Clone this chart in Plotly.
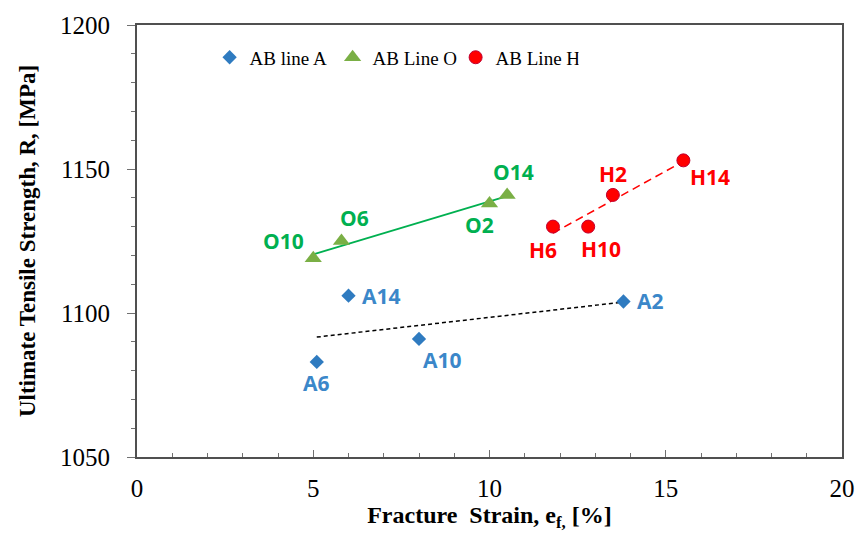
import numpy as np
import plotly.graph_objects as go

# ---- data ----
a_x = [5.1, 6.0, 8.0, 13.8]
a_y = [1083, 1106, 1091, 1104]
a_lab = ["A6", "A14", "A10", "A2"]

o_x = [5.0, 5.8, 10.0, 10.5]
o_y = [1119, 1125, 1138, 1141]
o_lab = ["O10", "O6", "O2", "O14"]

h_x = [11.8, 12.8, 13.5, 15.5]
h_y = [1130, 1130, 1141, 1153]
h_lab = ["H6", "H10", "H2", "H14"]

x_ticks = [0, 5, 10, 15, 20]
y_ticks = [1050, 1100, 1150, 1200]

# label pixel offsets (xshift, yshift) per point
a_off = [(0, -21), (33, 0), (23, -21), (27, 0)]
o_off = [(-30, 17), (13, 23), (-10, -21), (6, 23)]
h_off = [(-10, -23), (13, -22), (0, 21), (27, -17)]

blue_m = "#2F7BC0"
blue_t = "#3B87C9"
green_m = "#7AAF45"
green_t = "#00B050"
red = "#FF0000"

fig = go.Figure()

def trend(xs, ys, color, dash, width):
    k, b = np.polyfit(xs, ys, 1)
    xx = [min(xs), max(xs)]
    fig.add_trace(go.Scatter(x=xx, y=[k * v + b for v in xx], mode="lines",
                             line=dict(color=color, dash=dash, width=width),
                             showlegend=False, hoverinfo="skip"))

trend(a_x, a_y, "black", "4px,3px", 1.5)
trend(o_x, o_y, green_t, "solid", 1.8)
trend(h_x, h_y, red, "8px,5px", 1.5)

fig.add_trace(go.Scatter(x=a_x, y=a_y, mode="markers", name="AB line A",
                         marker=dict(symbol="diamond", size=11, color=blue_m)))
fig.add_trace(go.Scatter(x=o_x, y=o_y, mode="markers", name="AB Line O",
                         marker=dict(symbol="triangle-up", size=15, color=green_m)))
fig.add_trace(go.Scatter(x=h_x, y=h_y, mode="markers", name="AB Line H",
                         marker=dict(symbol="circle", size=13, color=red,
                                     line=dict(color="#C00030", width=1))))

def labels(xs, ys, labs, offs, color):
    for x, y, t, (dx, dy) in zip(xs, ys, labs, offs):
        fig.add_annotation(x=x, y=y, text="<b>%s</b>" % t, showarrow=False,
                           xshift=dx, yshift=dy,
                           font=dict(family="Open Sans", size=21, color=color))

labels(a_x, a_y, a_lab, a_off, blue_t)
labels(o_x, o_y, o_lab, o_off, green_t)
labels(h_x, h_y, h_lab, h_off, red)

serif = "Liberation Serif"
fig.update_layout(
    width=867, height=539,
    margin=dict(l=137, r=14, t=22, b=82),
    plot_bgcolor="white", paper_bgcolor="white",
    font=dict(family=serif, color="black"),
    legend=dict(orientation="h", x=0.103, y=0.925, xanchor="left", yanchor="middle",
                font=dict(family=serif, size=19), entrywidth=78,
                itemsizing="trace", bgcolor="rgba(0,0,0,0)"),
    xaxis=dict(range=[0, 20], tickvals=x_ticks, ticks="inside", ticklen=7,
               tickcolor="#707070", tickwidth=1.3,
               minor=dict(dtick=1, ticks="inside", ticklen=4, tickcolor="#707070"),
               showline=True, linecolor="#505050", linewidth=2, mirror=True,
               showgrid=False, zeroline=False,
               tickfont=dict(family=serif, size=25), ticklabelstandoff=8,
               title=dict(text="<b>Fracture  Strain, e<sub>f,</sub> [%]</b>",
                          font=dict(family=serif, size=24), standoff=4)),
    yaxis=dict(range=[1050, 1200], tickvals=y_ticks, ticks="outside", ticklen=8,
               tickcolor="#707070", tickwidth=1.3,
               minor=dict(dtick=10, ticks="outside", ticklen=4, tickcolor="#707070"),
               showline=True, linecolor="#505050", linewidth=2, mirror=True,
               showgrid=False, zeroline=False,
               tickfont=dict(family=serif, size=25), ticklabelstandoff=12,
               title=dict(text="<b>Ultimate Tensile Strength, R, [MPa]</b>",
                          font=dict(family=serif, size=23), standoff=18)),
)

fig.write_html("out.html")
